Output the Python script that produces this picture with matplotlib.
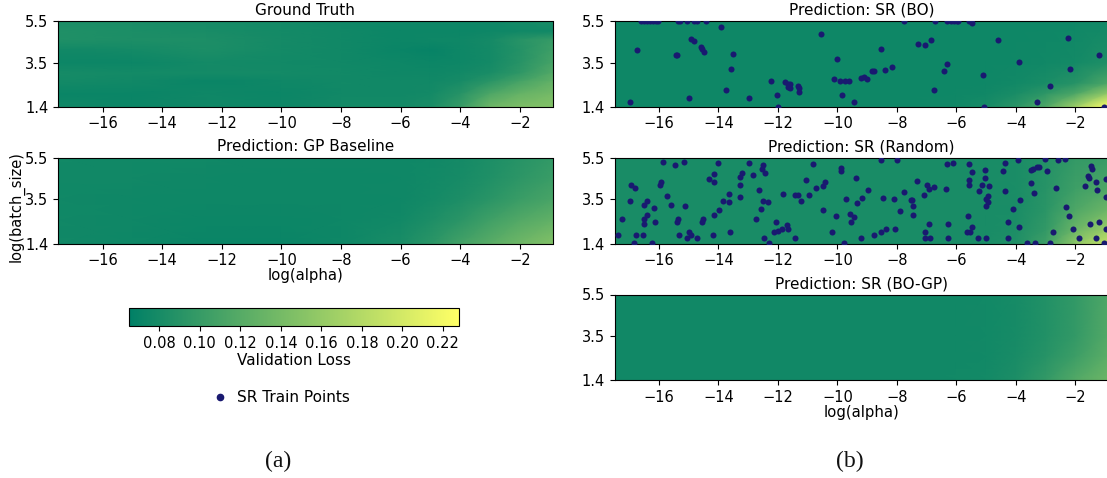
import matplotlib
matplotlib.use('Agg')
import matplotlib.pyplot as plt
import numpy as np
from matplotlib.lines import Line2D

W, H = 1107, 478
VMIN, VMAX = 0.065, 0.228

alpha_grid = [-17.5, -15, -12.5, -10, -8, -6, -5, -4, -3, -2, -0.9]

truth_batch = [5.5, 5.0, 4.6, 4.1, 3.5, 3.0, 2.6, 2.0, 1.4]
truth_loss = [
    [.082, .082, .080, .078, .075, .074, .074, .074, .075, .078, .082],
    [.086, .083, .081, .078, .076, .073, .073, .073, .074, .076, .076],
    [.086, .084, .084, .079, .076, .073, .074, .075, .079, .090, .100],
    [.076, .078, .083, .078, .076, .072, .070, .074, .078, .088, .105],
    [.073, .073, .078, .077, .076, .074, .073, .074, .078, .090, .110],
    [.080, .078, .078, .078, .077, .075, .075, .077, .082, .095, .118],
    [.078, .076, .072, .075, .077, .076, .076, .080, .092, .110, .128],
    [.072, .072, .075, .073, .076, .076, .078, .090, .115, .130, .140],
    [.076, .073, .076, .074, .078, .078, .082, .100, .135, .145, .148],
]

gp_batch = [5.5, 4.5, 3.5, 2.5, 1.4]
gp_loss = [
    [.077, .076, .076, .075, .075, .075, .076, .079, .084, .090, .097],
    [.076, .076, .075, .074, .074, .075, .077, .080, .086, .094, .102],
    [.076, .075, .074, .074, .074, .075, .078, .084, .092, .102, .112],
    [.076, .075, .073, .073, .074, .077, .084, .093, .106, .118, .128],
    [.076, .074, .072, .072, .074, .082, .092, .108, .122, .136, .148],
]

bo_batch = [5.5, 3.5, 2.5, 2.0, 1.4]
bo_loss = [
    [.074, .074, .074, .074, .074, .074, .074, .074, .074, .075, .076],
    [.074, .074, .074, .074, .074, .074, .074, .075, .076, .078, .085],
    [.074, .074, .074, .074, .074, .074, .075, .077, .082, .090, .115],
    [.074, .074, .074, .074, .074, .075, .076, .082, .095, .115, .160],
    [.074, .074, .074, .074, .074, .076, .080, .092, .115, .165, .228],
]

random_batch = [5.5, 4.0, 3.0, 2.0, 1.4]
random_loss = [
    [.081, .081, .081, .081, .081, .081, .081, .082, .088, .098, .100],
    [.081, .081, .081, .081, .081, .081, .081, .082, .090, .105, .115],
    [.081, .081, .081, .081, .081, .081, .081, .082, .092, .115, .135],
    [.081, .081, .081, .081, .081, .081, .081, .084, .098, .135, .165],
    [.081, .081, .081, .081, .081, .081, .082, .086, .105, .155, .190],
]

bogp_batch = [5.5, 3.5, 2.5, 1.4]
bogp_loss = [
    [.076, .076, .076, .076, .076, .076, .077, .080, .087, .097, .115],
    [.076, .076, .076, .076, .076, .076, .077, .080, .087, .098, .118],
    [.076, .076, .076, .076, .076, .076, .077, .081, .090, .104, .124],
    [.076, .076, .076, .076, .076, .077, .078, .084, .098, .118, .135],
]

bo_x = [-16.6, -16.5, -16.4, -16.3, -16.2, -16.1, -16.02, -15.35, -15.29, -15.07,
        -14.82, -14.71, -14.41, -13.93, -10.55, -14.91, -14.83, -14.6, -14.55, -14.49,
        -16.75, -15.44, -15.38, -13.51, -10.01, -13.59, -10.11, -9.9, -9.76, -9.61,
        -12.24, -11.76, -11.67, -11.58, -11.63, -11.58, -11.66, -11.31, -11.3, -11.28,
        -13.75, -14.98, -12.96, -12.02, -9.86, -16.96, -9.43, -12.0,
        -7.75, -6.72, -6.32, -6.17, -6.09, -5.98, -5.93, -5.57, -5.48, -5.51,
        -6.86, -7.28, -7.06, -8.55, -4.61, -2.24, -1.21, -3.89, -6.31, -6.41,
        -5.09, -2.17, -8.16, -8.39, -8.78, -8.85, -9.21, -9.12, -9.01, -6.74,
        -2.85, -3.29, -5.06, -1.05]
bo_y = [5.5, 5.5, 5.5, 5.5, 5.5, 5.5, 5.5, 5.5, 5.5, 5.5,
        5.5, 5.5, 5.5, 5.21, 4.89, 4.62, 4.56, 4.24, 4.16, 4.0,
        4.1, 3.87, 3.89, 3.9, 3.67, 3.22, 2.71, 2.63, 2.63, 2.63,
        2.63, 2.57, 2.47, 2.49, 2.37, 2.29, 2.32, 2.39, 2.28, 2.09,
        2.2, 1.8, 1.8, 1.94, 1.94, 1.61, 1.61, 1.4,
        5.5, 5.5, 5.5, 5.5, 5.5, 5.5, 5.5, 5.5, 5.4, 5.5,
        4.61, 4.4, 4.37, 4.16, 4.61, 4.67, 3.87, 3.54, 3.43, 3.08,
        2.93, 3.2, 3.28, 3.17, 3.12, 3.08, 2.77, 2.82, 2.72, 2.2,
        2.39, 1.61, 1.4, 1.4]

random_x = [-15.87, -15.45, -15.15, -14.0, -12.97, -12.5, -12.52, -12.45, -14.15, -13.2,
            -13.27, -12.83, -14.31, -14.15, -13.28, -15.94, -15.97, -16.93, -16.81, -12.63,
            -13.66, -13.28, -15.72, -13.84, -13.63, -12.49, -12.32, -16.98, -16.4, -16.52,
            -15.6, -15.11, -16.16, -12.58, -13.97, -14.15, -16.41, -16.49, -17.26, -15.35,
            -15.39, -16.13, -16.52, -14.51, -14.54, -12.74, -12.08, -12.13, -11.99, -13.62,
            -14.99, -14.91, -17.37, -16.76, -16.55, -15.32, -14.17, -15.05, -14.71, -12.46,
            -12.3, -16.85, -16.22,
            -11.87, -10.81, -8.52, -7.99, -6.33, -9.88, -9.89, -9.37, -11.04, -10.43,
            -10.49, -10.72, -7.33, -6.98, -6.91, -6.76, -6.36, -8.98, -7.75, -7.1,
            -11.82, -11.41, -11.32, -10.95, -11.21, -9.72, -9.16, -9.33, -8.46, -8.09,
            -7.54, -7.48, -7.46, -10.5, -7.91, -7.46, -10.06, -9.57, -9.43, -9.54,
            -11.7, -11.67, -10.17, -11.43, -9.19, -8.77, -8.52, -8.35, -8.06, -7.07,
            -6.93, -6.29, -7.06, -6.87, -6.29, -9.78,
            -6.11, -5.59, -4.36, -3.93, -3.01, -2.58, -2.33, -5.02, -5.48, -4.42,
            -3.5, -3.41, -3.28, -3.21, -2.96, -1.48, -1.43, -1.58, -1.53, -5.04,
            -5.56, -5.56, -5.14, -4.91, -3.48, -1.68, -1.29, -0.96, -5.23, -4.37,
            -2.65, -1.27, -3.4, -4.93, -5.01, -4.92, -5.01, -0.98, -3.86, -4.08,
            -2.31, -2.21, -5.6, -4.25, -5.46, -3.9, -1.52, -1.2, -2.09, -0.98,
            -5.64, -5.55, -2.76, -5.26, -4.99, -4.27, -1.86, -1.29, -3.61, -3.37,
            -2.86, -1.02]
random_y = [5.3, 5.12, 5.3, 5.26, 5.23, 5.15, 4.95, 4.77, 4.71, 4.77,
            4.57, 4.66, 4.46, 4.32, 4.21, 4.33, 4.21, 4.19, 4.05, 3.97,
            3.78, 3.62, 3.65, 3.42, 3.39, 3.42, 3.36, 3.42, 3.45, 3.24,
            3.24, 3.2, 3.09, 3.04, 2.98, 2.77, 2.76, 2.57, 2.57, 2.57,
            2.41, 2.41, 2.31, 2.57, 2.41, 2.57, 2.41, 1.97, 1.98, 1.97,
            1.97, 1.81, 1.81, 1.81, 1.81, 1.81, 1.81, 1.64, 1.64, 1.64,
            1.42, 1.42, 1.42,
            2.09, 5.17, 5.36, 5.36, 5.2, 5.01, 4.85, 4.51, 4.41, 4.32,
            4.14, 4.03, 4.38, 4.19, 4.02, 4.08, 3.99, 3.94, 3.86, 3.69,
            3.78, 3.73, 3.73, 3.69, 3.42, 3.51, 3.59, 3.32, 3.59, 3.51,
            3.48, 3.48, 3.21, 3.02, 2.95, 2.77, 2.71, 2.83, 2.65, 2.41,
            2.3, 2.09, 1.97, 1.64, 1.64, 1.81, 1.97, 2.09, 2.09, 1.97,
            2.31, 2.31, 1.64, 1.64, 1.64, 1.42,
            5.26, 5.2, 5.23, 5.36, 5.41, 5.39, 5.42, 4.92, 4.81, 4.85,
            4.92, 4.95, 5.07, 5.03, 4.84, 5.09, 4.94, 4.63, 4.52, 4.51,
            4.44, 4.19, 4.19, 4.16, 4.29, 4.14, 4.35, 4.46, 3.92, 3.92,
            4.05, 3.95, 3.81, 3.67, 3.54, 3.39, 3.21, 3.64, 3.48, 3.04,
            3.13, 2.71, 2.71, 2.41, 2.2, 2.2, 2.31, 2.41, 2.09, 2.09,
            1.97, 1.97, 1.97, 1.64, 1.64, 1.64, 1.64, 1.64, 1.42, 1.42,
            1.42, 1.42]


def px_axes(fig, x0, y0, x1, y1):
    return fig.add_axes([x0 / W, 1 - y1 / H, (x1 - x0) / W, (y1 - y0) / H])


def panel(fig, box, title, batch, loss, xlim, pts=None, xlabel=False, ylabel=False):
    ax = px_axes(fig, *box)
    mesh = ax.pcolormesh(alpha_grid, batch, np.array(loss), shading='gouraud',
                         cmap='summer', vmin=VMIN, vmax=VMAX)
    if pts is not None:
        ax.scatter(pts[0], pts[1], s=19, color='#191970', linewidths=0, zorder=3)
    ax.set_xlim(*xlim)
    ax.set_ylim(1.4, 5.5)
    ax.set_xticks([-16, -14, -12, -10, -8, -6, -4, -2])
    ax.set_yticks([1.4, 3.5, 5.5])
    ax.set_yticklabels(['1.4', '3.5', '5.5'])
    ax.tick_params(labelsize=10.5)
    ax.set_title(title, fontsize=11, pad=4.5)
    if xlabel:
        ax.set_xlabel('log(alpha)', fontsize=10.7, labelpad=0)
    if ylabel:
        ax.set_ylabel('log(batch_size)', fontsize=10.5, labelpad=0, y=0.43)
    return mesh


fig = plt.figure(figsize=(W / 100, H / 100), dpi=100)

left_lim = (-17.5, -0.9)
right_lim = (-17.49, -0.9)
panel(fig, (58, 21, 552.5, 106.5), 'Ground Truth', truth_batch, truth_loss, left_lim)
mesh = panel(fig, (58, 157.5, 552.5, 243.5), 'Prediction: GP Baseline', gp_batch, gp_loss,
             left_lim, xlabel=True, ylabel=True)
panel(fig, (614.7, 21, 1108, 106.5), 'Prediction: SR (BO)', bo_batch, bo_loss, right_lim,
      pts=(bo_x, bo_y))
panel(fig, (614.7, 157.5, 1108, 243.5), 'Prediction: SR (Random)', random_batch, random_loss,
      right_lim, pts=(random_x, random_y))
panel(fig, (614.7, 294.5, 1108, 380), 'Prediction: SR (BO-GP)', bogp_batch, bogp_loss,
      right_lim, xlabel=True)

cax = px_axes(fig, 129, 308, 459, 326)
cbar = fig.colorbar(mesh, cax=cax, orientation='horizontal')
cbar.set_ticks([0.08, 0.10, 0.12, 0.14, 0.16, 0.18, 0.20, 0.22])
cbar.set_ticklabels(['0.08', '0.10', '0.12', '0.14', '0.16', '0.18', '0.20', '0.22'])
cbar.ax.tick_params(labelsize=10.5)
cbar.set_label('Validation Loss', fontsize=11, labelpad=1.5)

handle = Line2D([], [], linestyle='none', marker='o', markersize=4.5,
                markerfacecolor='#191970', markeredgecolor='#191970', label='SR Train Points')
fig.legend(handles=[handle], loc='center', bbox_to_anchor=(277 / W, 1 - 397.5 / H),
           frameon=False, fontsize=11, handletextpad=0.1)

fig.text(278 / W, 1 - 461 / H, '(a)', family='Liberation Serif', fontsize=17,
         ha='center', va='center', color='#111111')
fig.text(850 / W, 1 - 461 / H, '(b)', family='Liberation Serif', fontsize=17,
         ha='center', va='center', color='#111111')

fig.savefig('out.png', dpi=100)
